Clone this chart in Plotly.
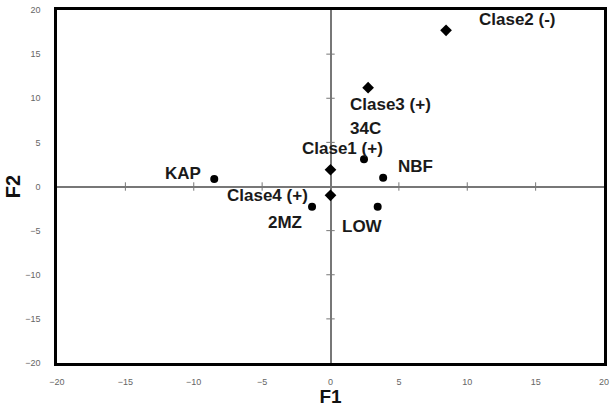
import plotly.graph_objects as go

# Data
labels = ["Clase2 (-)", "Clase3 (+)", "34C", "Clase1 (+)", "NBF", "KAP", "Clase4 (+)", "2MZ", "LOW"]
f1 = [8.45, 2.75, 2.45, 0.0, 3.85, -8.5, 0.0, -1.35, 3.45]
f2 = [17.7, 11.2, 3.1, 1.9, 1.0, 0.85, -1.0, -2.3, -2.3]
kind = ["clase", "clase", "var", "clase", "var", "var", "clase", "var", "var"]
tick_vals = [-20, -15, -10, -5, 0, 5, 10, 15, 20]

# label offsets in pixels (style)
label_shift = {
    "Clase2 (-)": (71, 11),
    "Clase3 (+)": (22, -17),
    "34C": (1, 31),
    "Clase1 (+)": (12, 21),
    "NBF": (32, 11),
    "KAP": (-31, 6),
    "Clase4 (+)": (-63, 0),
    "2MZ": (-27, -16),
    "LOW": (-15, -20),
}

fig = go.Figure()

# zero-line ticks
inner_ticks = [v for v in tick_vals if v not in (-20, 0, 20)]
fig.add_trace(go.Scatter(x=inner_ticks, y=[0] * len(inner_ticks), mode="markers",
                         marker=dict(symbol="line-ns", size=6, line=dict(color="#777", width=1)),
                         hoverinfo="skip", showlegend=False))
fig.add_trace(go.Scatter(x=[0] * len(inner_ticks), y=inner_ticks, mode="markers",
                         marker=dict(symbol="line-ew", size=6, line=dict(color="#777", width=1)),
                         hoverinfo="skip", showlegend=False))

for k, sym, sz in (("clase", "diamond", 9), ("var", "circle", 8)):
    xs = [x for x, kk in zip(f1, kind) if kk == k]
    ys = [y for y, kk in zip(f2, kind) if kk == k]
    fig.add_trace(go.Scatter(x=xs, y=ys, mode="markers",
                             marker=dict(symbol=sym, size=sz, color="black"),
                             showlegend=False, hoverinfo="skip"))

for lab, x, y in zip(labels, f1, f2):
    dx, dy = label_shift[lab]
    fig.add_annotation(x=x, y=y, text="<b>" + lab + "</b>", showarrow=False, xshift=dx, yshift=dy,
                       font=dict(family="Liberation Sans, Arial", size=17, color="#1a1a1a"),
                       xanchor="center", yanchor="middle")

axis_common = dict(range=[-20, 20], tickvals=tick_vals, showgrid=False, automargin=False,
                   zeroline=True, zerolinecolor="#777", zerolinewidth=1.5,
                   showline=True, linecolor="black", linewidth=2.5, mirror=True,
                   ticks="", tickfont=dict(family="Liberation Sans, Arial", size=9, color="#666"))

fig.update_xaxes(**axis_common, ticklabelstandoff=8,
                 title=dict(text="<b>F1</b>", standoff=7,
                            font=dict(family="Liberation Sans, Arial", size=19, color="#111")))
fig.update_yaxes(**axis_common, ticklabelstandoff=12,
                 title=dict(text="<b>F2</b>", standoff=0,
                            font=dict(family="Liberation Sans, Arial", size=20, color="#111")))

fig.update_layout(width=613, height=407,
                  margin=dict(l=57, r=9, t=10, b=44),
                  plot_bgcolor="white", paper_bgcolor="white")

fig.write_html("out.html")
